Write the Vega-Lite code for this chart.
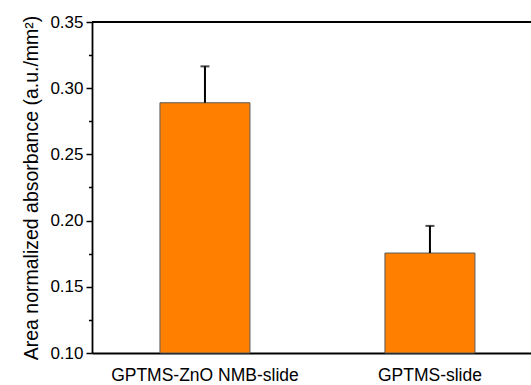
{
  "$schema": "https://vega.github.io/schema/vega-lite/v6.json",
  "width": 439,
  "height": 331,
  "autosize": {"type": "none"},
  "padding": {"left": 92, "top": 22, "right": 0, "bottom": 32},
  "background": "white",
  "config": {
    "view": {"stroke": null},
    "font": "Liberation Sans",
    "axis": {"labelFont": "Liberation Sans", "titleFont": "Liberation Sans", "labelColor": "black", "titleColor": "black", "titleFontWeight": "normal", "grid": false}
  },
  "data": {
    "values": [
      {"sample": "GPTMS-ZnO NMB-slide", "value": 0.289, "upper": 0.3165},
      {"sample": "GPTMS-slide", "value": 0.1755, "upper": 0.196}
    ]
  },
  "layer": [
    {
      "mark": {"type": "bar", "fill": "#FF8000", "stroke": "#5a5a5a", "strokeWidth": 1},
      "encoding": {
        "x": {
          "field": "sample", "type": "nominal", "sort": null,
          "scale": {"paddingInner": 0.6, "paddingOuter": 0.2756, "align": 0.548},
          "axis": {"title": null, "labelAngle": 0, "ticks": false, "domainColor": "black", "domainWidth": 1.8, "labelFontSize": 17.5, "labelPadding": 13, "labelLimit": 0}
        },
        "y": {
          "field": "value", "type": "quantitative",
          "scale": {"domain": [0.1, 0.35], "nice": false, "zero": false},
          "axis": {
            "orient": "left",
            "title": "Area normalized absorbance (a.u./mm²)",
            "titleFontSize": 19.5, "titlePadding": 8,
            "values": [0.1, 0.15, 0.2, 0.25, 0.3, 0.35], "format": ".2f",
            "labelFontSize": 17, "labelPadding": 3,
            "tickSize": 6, "tickWidth": 1.5, "tickColor": "black",
            "domainColor": "black", "domainWidth": 1.8
          }
        },
        "y2": {"datum": 0.1}
      }
    },
    {
      "mark": {"type": "rule", "color": "black", "strokeWidth": 2},
      "encoding": {
        "x": {"field": "sample", "type": "nominal", "sort": null},
        "y": {"field": "value", "type": "quantitative", "axis": null},
        "y2": {"field": "upper"}
      }
    },
    {
      "mark": {"type": "tick", "color": "black", "thickness": 2, "size": 9, "orient": "horizontal"},
      "encoding": {
        "x": {"field": "sample", "type": "nominal", "sort": null},
        "y": {"field": "upper", "type": "quantitative", "axis": null}
      }
    },
    {
      "mark": {"type": "rule", "color": "black", "strokeWidth": 1.8},
      "encoding": {
        "y": {
          "datum": 0.35, "type": "quantitative",
          "axis": {
            "orient": "left", "title": null, "labels": false, "domain": false,
            "values": [0.125, 0.175, 0.225, 0.275, 0.325],
            "tickSize": 3.5, "tickWidth": 1.5, "tickColor": "black"
          }
        }
      }
    }
  ],
  "resolve": {"axis": {"y": "independent"}}
}
